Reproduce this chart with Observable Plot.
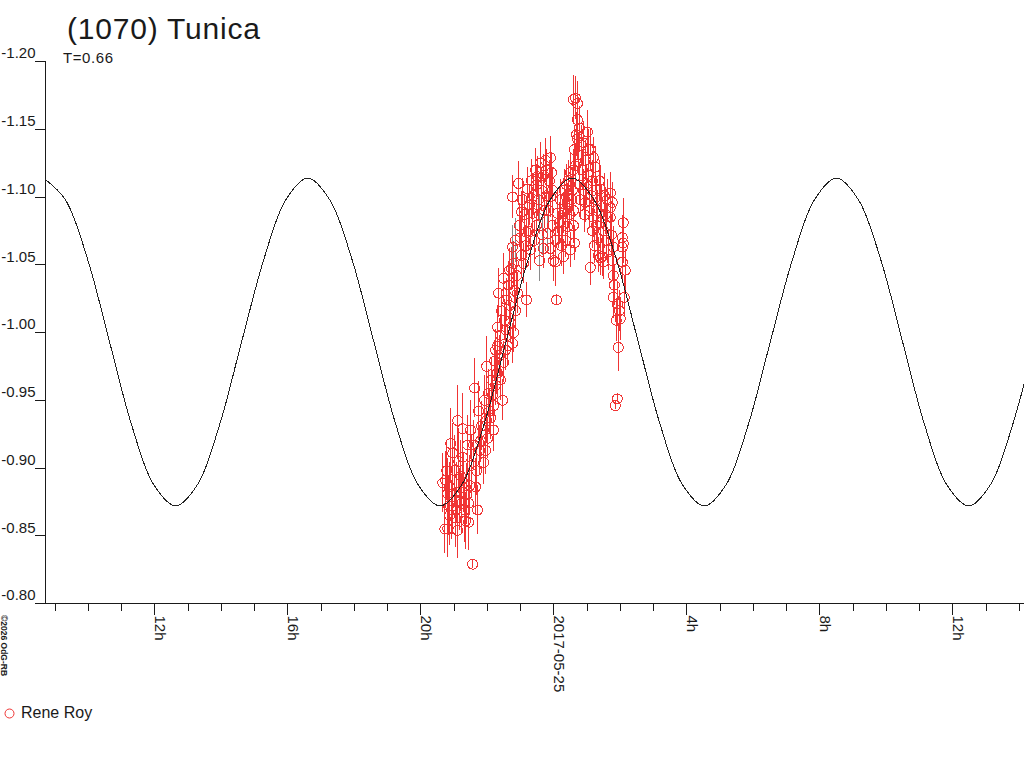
<!DOCTYPE html>
<html><head><meta charset="utf-8">
<script src="https://cdn.jsdelivr.net/npm/d3@7"></script>
<script src="https://cdn.jsdelivr.net/npm/@observablehq/plot@0.6"></script>
<style>
html,body{margin:0;padding:0;background:#fff;overflow:hidden;}
#wrap{position:relative;width:1024px;height:768px;}
#wrap > svg{display:block;}
#overlay{position:absolute;left:0;top:0;}
</style></head><body><div id="wrap"></div>
<script>
// ---- data (hours since 2017-05-24 00:00 UT, magnitudes) ----
const titleText = "(1070) Tunica";
const subtitleText = "T=0.66";
const legendLabel = "Rene Roy";
const creditText = "©2026 OdG-RB";

const xStartHour = 8.713, xEndHour = 38.156;
const yMin = -1.20, yMax = -0.80;
const yTicks = [-1.20, -1.15, -1.10, -1.05, -1.00, -0.95, -0.90, -0.85, -0.80];
const minorHours = [9,10,11,12,13,14,15,16,17,18,19,20,21,22,23,24,25,26,27,28,29,30,31,32,33,34,35,36,37,38];
const majorHours = [12, 16, 20, 24, 28, 32, 36];
const majorLabels = ["12h", "16h", "20h", "2017-05-25", "4h", "8h", "12h"];

const obsHour = [
20.66,20.72,20.75,20.78,20.81,20.81,20.84,20.87,20.90,20.93,
20.96,20.96,21.02,21.05,21.08,21.11,21.11,21.17,21.20,21.26,
21.26,21.29,21.32,21.35,21.38,21.44,21.44,21.47,21.50,21.53,
21.56,21.59,21.62,21.65,21.68,21.71,21.74,21.77,21.80,21.83,
21.89,21.92,21.95,21.98,21.98,22.01,22.04,22.07,22.10,22.13,
22.16,22.19,22.22,22.25,22.28,22.31,22.31,22.31,22.34,22.37,
22.40,22.43,22.46,22.49,22.49,22.52,22.55,22.58,22.61,22.64,
22.67,22.70,22.73,22.76,22.76,22.79,22.79,22.82,22.85,22.88,
22.91,22.94,22.76,22.97,23.00,23.03,23.06,23.09,23.12,23.15,
23.18,23.21,23.24,23.27,23.30,23.33,23.36,23.39,23.42,23.45,
23.48,23.51,23.54,23.57,23.60,23.63,23.66,23.69,23.72,23.75,
23.78,23.81,23.84,23.87,23.90,23.90,23.90,23.93,23.96,23.99,
24.05,24.05,24.08,24.11,24.14,24.20,24.26,24.29,24.29,24.32,
24.35,24.35,24.38,24.41,24.41,24.44,24.47,24.50,24.50,24.56,
24.59,24.59,24.59,24.59,24.62,24.65,24.65,24.68,24.71,24.71,
24.71,24.74,24.77,24.80,24.83,24.86,24.89,24.92,24.95,24.95,
24.98,25.01,25.04,25.07,25.10,25.10,25.13,25.16,25.19,25.19,
25.22,25.25,25.28,25.31,25.31,25.34,25.37,25.40,25.40,25.40,
25.46,25.49,25.49,25.52,25.55,25.58,25.61,25.64,25.70,25.70,
25.70,25.73,25.76,25.76,25.79,25.79,25.79,25.82,25.85,25.88,
25.91,25.91,25.94,25.97,26.00,26.06,26.06,26.06,26.09,26.09,
26.12,26.15,
23.03,23.18,23.33,23.48,23.57,23.69,23.78,23.96,24.17,24.23,
24.38,24.53,24.62,24.77,24.89,25.04,25.16,25.28,25.43,25.58,
22.19,22.25,22.40,22.55,22.67,22.85,21.14,21.23,21.41,20.87];
const obsMag = [
-0.889,-0.855,-0.891,-0.898,-0.881,-0.855,-0.872,-0.886,-0.918,-0.869,
-0.911,-0.872,-0.898,-0.863,-0.882,-0.935,-0.854,-0.876,-0.894,-0.929,
-0.908,-0.889,-0.869,-0.861,-0.880,-0.874,-0.860,-0.887,-0.928,-0.902,
-0.829,-0.917,-0.959,-0.886,-0.898,-0.869,-0.942,-0.913,-0.920,-0.931,
-0.904,-0.950,-0.913,-0.975,-0.935,-0.922,-0.955,-0.942,-0.937,-0.965,
-0.954,-0.928,-0.979,-0.961,-0.970,-0.970,-0.990,-1.004,-1.029,-0.983,
-0.998,-1.016,-0.950,-1.040,-0.978,-1.009,-1.002,-1.024,-0.990,-1.035,
-1.020,-1.007,-1.047,-1.063,-0.992,-1.051,-1.000,-1.031,-1.068,-1.042,
-1.029,-1.110,-1.100,-1.079,-1.070,-1.057,-1.098,-1.051,-1.087,-1.064,
-1.024,-1.106,-1.075,-1.094,-1.061,-1.112,-1.088,-1.101,-1.068,-1.120,
-1.079,-1.115,-1.098,-1.053,-1.125,-1.105,-1.072,-1.116,-1.090,-1.127,
-1.101,-1.073,-1.090,-1.112,-1.129,-1.100,-1.062,-1.118,-1.079,-1.053,
-1.068,-1.052,-1.024,-1.088,-1.075,-1.098,-1.075,-1.088,-1.056,-1.105,
-1.090,-1.068,-1.100,-1.095,-1.078,-1.112,-1.087,-1.118,-1.061,-1.105,
-1.172,-1.120,-1.090,-1.079,-1.066,-1.173,-1.123,-1.146,-1.169,-1.157,
-1.143,-1.131,-1.109,-1.098,-1.138,-1.120,-1.140,-1.087,-1.096,-1.127,
-1.109,-1.148,-1.116,-1.090,-1.135,-1.048,-1.101,-1.075,-1.129,-1.085,
-1.064,-1.122,-1.098,-1.090,-1.070,-1.057,-1.112,-1.106,-1.081,-1.055,
-1.056,-1.075,-1.052,-1.101,-1.087,-1.068,-1.098,-1.061,-1.103,-1.092,
-1.085,-1.072,-1.096,-1.053,-1.063,-1.042,-1.026,-1.035,-0.946,-1.009,
-1.021,-0.951,-0.989,-1.016,-1.010,-1.070,-1.063,-1.052,-1.081,-1.066,
-1.026,-1.046,
-1.089,-1.074,-1.099,-1.109,-1.087,-1.062,-1.120,-1.105,-1.081,-1.064,
-1.109,-1.098,-1.135,-1.151,-1.105,-1.135,-1.112,-1.079,-1.094,-1.079,
-0.946,-0.987,-0.965,-0.987,-1.046,-1.016,-0.905,-0.874,-0.917,-0.865];
const obsErr = [
0.022,0.018,0.021,0.022,0.026,0.021,0.022,0.018,0.026,0.022,
0.022,0.021,0.026,0.022,0.022,0.026,0.021,0.022,0.026,0.026,
0.022,0.022,0.024,0.021,0.022,0.022,0.021,0.022,0.022,0.022,
0.003,0.018,0.022,0.021,0.018,0.018,0.022,0.018,0.016,0.018,
0.016,0.018,0.018,0.022,0.016,0.015,0.018,0.016,0.016,0.016,
0.015,0.016,0.015,0.015,0.016,0.015,0.016,0.016,0.018,0.015,
0.015,0.016,0.015,0.018,0.015,0.015,0.015,0.016,0.015,0.016,
0.015,0.015,0.016,0.016,0.015,0.016,0.015,0.015,0.016,0.015,
0.015,0.016,0.016,0.016,0.016,0.015,0.016,0.015,0.015,0.015,
0.013,0.016,0.015,0.015,0.015,0.016,0.015,0.015,0.015,0.016,
0.015,0.015,0.015,0.015,0.015,0.015,0.015,0.015,0.013,0.016,
0.015,0.013,0.013,0.015,0.016,0.015,0.013,0.015,0.013,0.015,
0.013,0.018,0.003,0.015,0.013,0.015,0.015,0.015,0.013,0.015,
0.015,0.013,0.015,0.015,0.013,0.015,0.013,0.015,0.013,0.015,
0.018,0.015,0.015,0.013,0.013,0.016,0.015,0.016,0.016,0.016,
0.015,0.015,0.015,0.013,0.015,0.015,0.016,0.013,0.015,0.015,
0.015,0.016,0.015,0.013,0.015,0.013,0.015,0.013,0.015,0.015,
0.013,0.015,0.015,0.015,0.015,0.013,0.015,0.015,0.015,0.013,
0.015,0.015,0.013,0.016,0.015,0.015,0.015,0.015,0.015,0.015,
0.015,0.015,0.015,0.015,0.015,0.015,0.016,0.015,0.003,0.016,
0.016,0.003,0.018,0.015,0.016,0.016,0.015,0.016,0.018,0.015,
0.015,0.015,
0.015,0.015,0.015,0.015,0.015,0.015,0.015,0.016,0.015,0.015,
0.015,0.015,0.016,0.016,0.015,0.015,0.015,0.015,0.015,0.015,
0.016,0.015,0.015,0.015,0.016,0.015,0.024,0.022,0.022,0.022];
const grayIdx = [73, 78, 103, 106, 111, 216];

// fitted lightcurve
const fitHour = [8.65,9.31,9.98,10.64,11.30,11.96,12.63,13.29,13.95,14.61,15.28,15.94,
16.60,17.26,17.93,18.59,19.25,19.91,20.58,21.24,21.90,22.56,23.23,23.89,
24.55,25.21,25.88,26.54,27.20,27.86,28.53,29.19,29.85,30.51,31.18,31.84,
32.50,33.16,33.83,34.49,35.15,35.81,36.48,37.14,37.80,38.46];
const fitMag = [-1.114,-1.098,-1.054,-0.993,-0.932,-0.888,-0.872,-0.888,-0.932,-0.993,-1.054,-1.098,
-1.114,-1.098,-1.054,-0.993,-0.932,-0.888,-0.872,-0.888,-0.932,-0.993,-1.054,-1.098,
-1.114,-1.098,-1.054,-0.993,-0.932,-0.888,-0.872,-0.888,-0.932,-0.993,-1.054,-1.098,
-1.114,-1.098,-1.054,-0.993,-0.932,-0.888,-0.872,-0.888,-0.932,-0.993];

// ---- build ----
const base = Date.UTC(2017, 4, 24);
const toDate = h => new Date(base + h * 3600000);
const n = Math.min(obsHour.length, obsMag.length, obsErr.length);
const obs = d3.range(n).map(i => ({t: toDate(obsHour[i]), m: obsMag[i], e: obsErr[i], gray: grayIdx.includes(i)}));
const fit = fitHour.map((h, i) => ({t: toDate(h), m: fitMag[i]}));
const RED = "#f03434", GRAY = "#8a8a8a", INK = "#1a1a1a";

const chart = Plot.plot({
  width: 1024, height: 768,
  marginLeft: 45, marginRight: 0, marginTop: 61, marginBottom: 165,
  style: {fontFamily: "'Liberation Sans', Arial, sans-serif", fontSize: "15px", color: INK, background: "#fff", overflow: "visible", shapeRendering: "crispEdges"},
  x: {type: "utc", domain: [toDate(xStartHour), toDate(xEndHour)]},
  y: {domain: [yMin, yMax], reverse: true},
  marks: [
    Plot.ruleY([yMax]),
    Plot.ruleX([toDate(xStartHour)], {y1: yMin, y2: yMax}),
    Plot.axisY({ticks: yTicks, tickSize: 10, fill: "none", label: null}),
    Plot.text(yTicks, {y: d => d, text: d => d.toFixed(2), frameAnchor: "left", textAnchor: "end", dx: -10, dy: -8, fontSize: 15, letterSpacing: "0.5px"}),
    Plot.axisX({ticks: minorHours.map(toDate), tickSize: 8, fill: "none", label: null}),
    Plot.axisX({ticks: majorHours.map(toDate), tickSize: 12, fill: "none", label: null}),
    Plot.text(majorHours, {x: d => toDate(d), text: (d, i) => majorLabels[i], frameAnchor: "bottom", rotate: 90, textAnchor: "start", lineAnchor: "bottom", dy: 12, fontSize: 15}),
    Plot.ruleX(obs, {x: "t", y1: d => d.m - d.e, y2: d => d.m + d.e, stroke: d => d.gray ? GRAY : RED, strokeWidth: 1}),
    Plot.dot(obs, {x: "t", y: "m", r: 5, stroke: RED, fill: "none", strokeWidth: 1}),
    Plot.line(fit, {x: "t", y: "m", curve: "catmull-rom", stroke: "#222", strokeWidth: 1, clip: true})
  ]
});
const wrap = document.getElementById("wrap");
wrap.appendChild(chart);

// overlay texts (title, subtitle, legend, credit)
const ns = "http://www.w3.org/2000/svg";
const ov = document.createElementNS(ns, "svg");
ov.setAttribute("id", "overlay");
ov.setAttribute("width", 1024); ov.setAttribute("height", 768);
ov.setAttribute("font-family", "'Liberation Sans', Arial, sans-serif");
ov.setAttribute("fill", INK);
function addText(str, attrs) {
  const t = document.createElementNS(ns, "text");
  for (const k in attrs) t.setAttribute(k, attrs[k]);
  t.textContent = str;
  ov.appendChild(t);
}
addText(titleText, {x: 67, y: 38.5, "font-size": 30, "letter-spacing": "0.8"});
addText(subtitleText, {x: 63, y: 63, "font-size": 15, "letter-spacing": "0.6"});
const c = document.createElementNS(ns, "circle");
c.setAttribute("cx", 9.5); c.setAttribute("cy", 713.5); c.setAttribute("r", 4.5);
c.setAttribute("fill", "none"); c.setAttribute("stroke", RED);
ov.appendChild(c);
addText(legendLabel, {x: 21, y: 718, "font-size": 16});
addText(creditText, {transform: "translate(1,615) rotate(90)", "font-size": 8.5, "font-weight": "bold"});
wrap.appendChild(ov);
</script>
</body></html>
